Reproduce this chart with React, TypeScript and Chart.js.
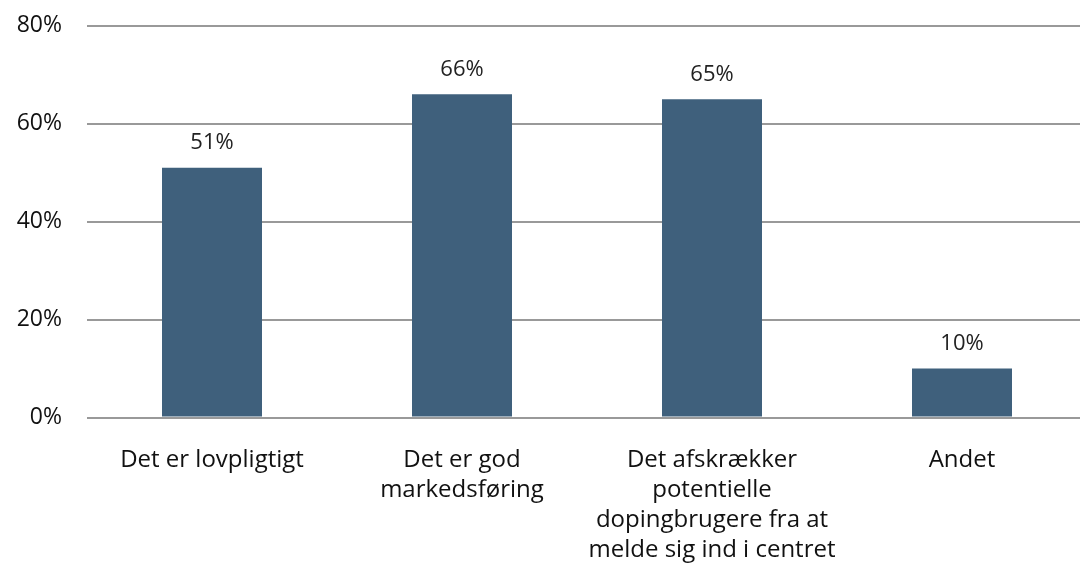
import React, { useEffect, useRef } from "react";
import { Chart, registerables } from "chart.js";

Chart.register(...registerables);

const categories: (string | string[])[] = [
  "Det er lovpligtigt",
  ["Det er god", "markedsføring"],
  ["Det afskrækker", "potentielle", "dopingbrugere fra at", "melde sig ind i centret"],
  "Andet",
];
const values: number[] = [51, 66, 65, 10];
const yTicks: number[] = [0, 20, 40, 60, 80];

const FONT = "'Open Sans', Lato, sans-serif";
const BAR = "#3F607C";

const dataLabels = {
  id: "dataLabels",
  afterDatasetsDraw(chart: any) {
    const ctx = chart.ctx;
    const meta = chart.getDatasetMeta(0);
    ctx.save();
    ctx.font = `22px ${FONT}`;
    ctx.fillStyle = "#222";
    ctx.textAlign = "center";
    ctx.textBaseline = "middle";
    meta.data.forEach((el: any, i: number) => {
      ctx.fillText(values[i] + "%", el.x, el.y - 25);
    });
    ctx.restore();
  },
};

export default function App() {
  const ref = useRef<HTMLCanvasElement>(null);
  useEffect(() => {
    document.body.style.margin = "0";
    const chart = new Chart(ref.current!, {
      type: "bar",
      data: {
        labels: categories,
        datasets: [
          {
            data: values,
            backgroundColor: BAR,
            barPercentage: 0.8,
            categoryPercentage: 0.5,
          },
        ],
      },
      plugins: [dataLabels],
      options: {
        animation: false,
        responsive: true,
        maintainAspectRatio: false,
        layout: { padding: { top: 6, right: 0, left: 0, bottom: 0 } },
        plugins: { legend: { display: false }, tooltip: { enabled: false } },
        scales: {
          x: {
            grid: { display: false, drawTicks: false },
            border: { display: false },
            ticks: {
              color: "#111",
              font: { family: FONT, size: 24, lineHeight: 1.25 },
              padding: 28,
              maxRotation: 0,
              autoSkip: false,
            },
            afterFit: (s: any) => {
              s.height = 149.5;
            },
          },
          y: {
            min: 0,
            max: 80,
            afterBuildTicks: (s: any) => {
              s.ticks = yTicks.map((v) => ({ value: v }));
            },
            grid: { color: "#999", lineWidth: 2, drawTicks: false },
            border: { display: false },
            ticks: {
              color: "#111",
              font: { family: FONT, size: 23 },
              padding: 25,
              callback: (v: any) => v + "%",
            },
            afterFit: (s: any) => {
              s.width = 87;
            },
          },
        },
      },
    });
    return () => chart.destroy();
  }, []);
  return (
    <div style={{ position: "fixed", left: 0, top: 0, width: 1080, height: 567, overflow: "hidden" }}>
      <div style={{ position: "absolute", left: 0, top: -13, width: 1087, height: 580 }}>
        <canvas ref={ref} />
      </div>
    </div>
  );
}
